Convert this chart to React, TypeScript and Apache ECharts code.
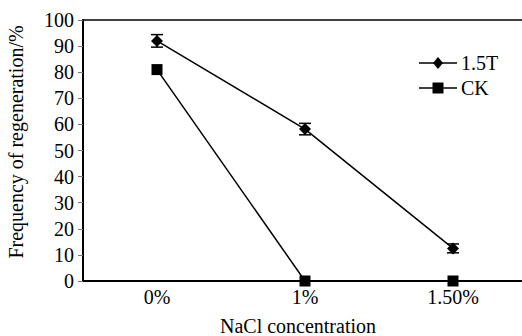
import React, { useEffect, useRef } from "react";
import * as echarts from "echarts";

const categories = ["0%", "1%", "1.50%"];
const t15Values = [92, 58.2, 12.5];
const t15Errors = [2.4, 2.2, 1.7];
const ckValues = [81, 0, 0];
const yTicks = [0, 10, 20, 30, 40, 50, 60, 70, 80, 90, 100];
const seriesNames = ["1.5T", "CK"];
const xTitle = "NaCl concentration";
const yTitle = "Frequency of regeneration/%";

const FONT = "20px Liberation Serif";

export default function App() {
  const ref = useRef<HTMLDivElement>(null);
  useEffect(() => {
    const chart = echarts.init(ref.current!, null, { renderer: "svg" });
    chart.setOption({
      animation: false,
      backgroundColor: "#fff",
      grid: {
        left: 83,
        top: 20,
        width: 444,
        height: 261,
        outerBoundsMode: "none",
        containLabel: false,
        show: true,
        borderColor: "#000",
        borderWidth: 1.5,
      },
      xAxis: {
        type: "category",
        data: categories,
        boundaryGap: true,
        axisLine: { lineStyle: { color: "#000", width: 2 } },
        axisTick: { inside: true, length: 5, lineStyle: { color: "#777" } },
        axisLabel: { show: false },
      },
      yAxis: {
        type: "value",
        min: 0,
        max: 100,
        interval: 10,
        axisLine: { show: true, lineStyle: { color: "#000", width: 2 } },
        axisTick: { show: true, length: 5, lineStyle: { color: "#777" } },
        splitLine: { show: false },
        axisLabel: { show: false },
      },
      series: [
        {
          name: seriesNames[0],
          type: "line",
          data: t15Values,
          symbol: "diamond",
          symbolSize: 12,
          itemStyle: { color: "#000" },
          lineStyle: { color: "#000", width: 1.5 },
          z: 4,
        },
        {
          name: seriesNames[1],
          type: "line",
          data: ckValues,
          symbol: "rect",
          symbolSize: 11,
          itemStyle: { color: "#000" },
          lineStyle: { color: "#000", width: 1.5 },
          z: 4,
        },
        {
          type: "custom",
          name: "1.5T-err",
          silent: true,
          z: 3,
          data: t15Values.map((v, i) => [i, v - t15Errors[i], v + t15Errors[i]]),
          renderItem: (params: any, api: any) => {
            const x = api.value(0);
            const lo = api.coord([x, api.value(1)]);
            const hi = api.coord([x, api.value(2)]);
            const w = 6;
            const style = { stroke: "#000", lineWidth: 1.5 };
            return {
              type: "group",
              children: [
                { type: "line", shape: { x1: lo[0], y1: lo[1], x2: hi[0], y2: hi[1] }, style },
                { type: "line", shape: { x1: lo[0] - w, y1: lo[1], x2: lo[0] + w, y2: lo[1] }, style },
                { type: "line", shape: { x1: hi[0] - w, y1: hi[1], x2: hi[0] + w, y2: hi[1] }, style },
              ],
            };
          },
        },
      ],
    });

    const txt = (text: string, x: number, y: number, align: string, extra: any = {}) => ({
      type: "text",
      x,
      y,
      ...extra,
      style: {
        text,
        font: FONT,
        fill: "#000",
        align,
        verticalAlign: "middle",
      },
    });

    const gridBottom = chart.convertToPixel({ yAxisIndex: 0 }, 0) as number;
    const graphics: any[] = [];
    yTicks.forEach((v) => {
      const y = chart.convertToPixel({ yAxisIndex: 0 }, v) as number;
      graphics.push(txt(String(v), 74, y, "right"));
    });
    categories.forEach((c, i) => {
      const x = chart.convertToPixel({ xAxisIndex: 0 }, i) as number;
      graphics.push(txt(c, x, gridBottom + 16, "center"));
    });
    graphics.push(txt(xTitle, 298, 326, "center"));
    graphics.push(txt(yTitle, 16, 142, "center", { rotation: Math.PI / 2 }));

    // legend
    const legendRows = [63, 88];
    const lx1 = 419;
    const lx2 = 457;
    const lcx = (lx1 + lx2) / 2;
    legendRows.forEach((ly, i) => {
      graphics.push({
        type: "line",
        shape: { x1: lx1, y1: ly, x2: lx2, y2: ly },
        style: { stroke: "#000", lineWidth: 1.5 },
      });
      if (i === 0) {
        graphics.push({
          type: "polygon",
          shape: { points: [[lcx, ly - 6], [lcx + 5, ly], [lcx, ly + 6], [lcx - 5, ly]] },
          style: { fill: "#000" },
        });
      } else {
        graphics.push({
          type: "rect",
          shape: { x: lcx - 5.5, y: ly - 5.5, width: 11, height: 11 },
          style: { fill: "#000" },
        });
      }
      graphics.push(txt(seriesNames[i], 461, ly, "left"));
    });

    chart.setOption({ graphic: graphics });
    return () => chart.dispose();
  }, []);
  return <div ref={ref} style={{ width: 522, height: 336, position: "absolute", left: 0, top: 0 }} />;
}
